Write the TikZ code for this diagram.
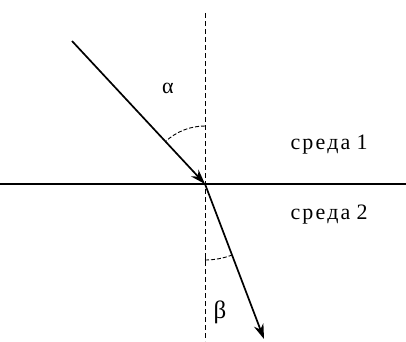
\documentclass[tikz,border=0pt]{standalone}
\usepackage{fontspec}
\setmainfont{Liberation Serif}
\usepackage{tikz}
\usetikzlibrary{arrows.meta}

\begin{document}
\begin{tikzpicture}[
  x=1pt, y=1pt,
  font=\fontsize{22}{26}\selectfont,
  ray/.style={-{Stealth[length=15pt, width=10pt]}, line width=1.7pt},
  normal/.style={dashed, dash pattern=on 5pt off 3pt, line width=0.9pt},
  bound/.style={line width=1.4pt},
  anglearc/.style={dash pattern=on 4pt off 2pt, line width=0.9pt},
  lab/.style={inner sep=0pt},
  medium/.style={inner sep=0pt, font=\fontsize{22}{26}\selectfont\addfontfeature{LetterSpace=10}}]
\useasboundingbox (0,0) rectangle (406,341);
\coordinate (O) at (205,157);
\coordinate (src) at (72,300);
\coordinate (tip) at (264,2);
\coordinate (ntop) at (205,328);
\coordinate (nbot) at (205,0);
\coordinate (west) at (0,157);
\coordinate (east) at (406,157);
% normal and boundary
\draw[normal] (ntop) -- (nbot);
\draw[bound] (west) -- (east);
% rays
\draw[ray] (src) -- (O);
\draw[ray] (O) -- (tip);
% angles
\draw[anglearc] ([yshift=58pt]O) arc[start angle=90, end angle=133, radius=58pt];
\draw[anglearc] ([yshift=-76pt]O) arc[start angle=270, end angle=290.5, radius=76pt];
\draw[line width=0.9pt] ([yshift=-70pt]O) -- ([yshift=-82pt]O);
\node[lab] (alpha) at (168,253) {α};
\node[lab, font=\fontsize{25}{28}\selectfont] (beta) at (220,29) {β};
\node[medium] (med1) at (329,196) {среда\hspace{6pt}1};
\node[medium] (med2) at (329,126) {среда\hspace{6pt}2};
\end{tikzpicture}
\end{document}
